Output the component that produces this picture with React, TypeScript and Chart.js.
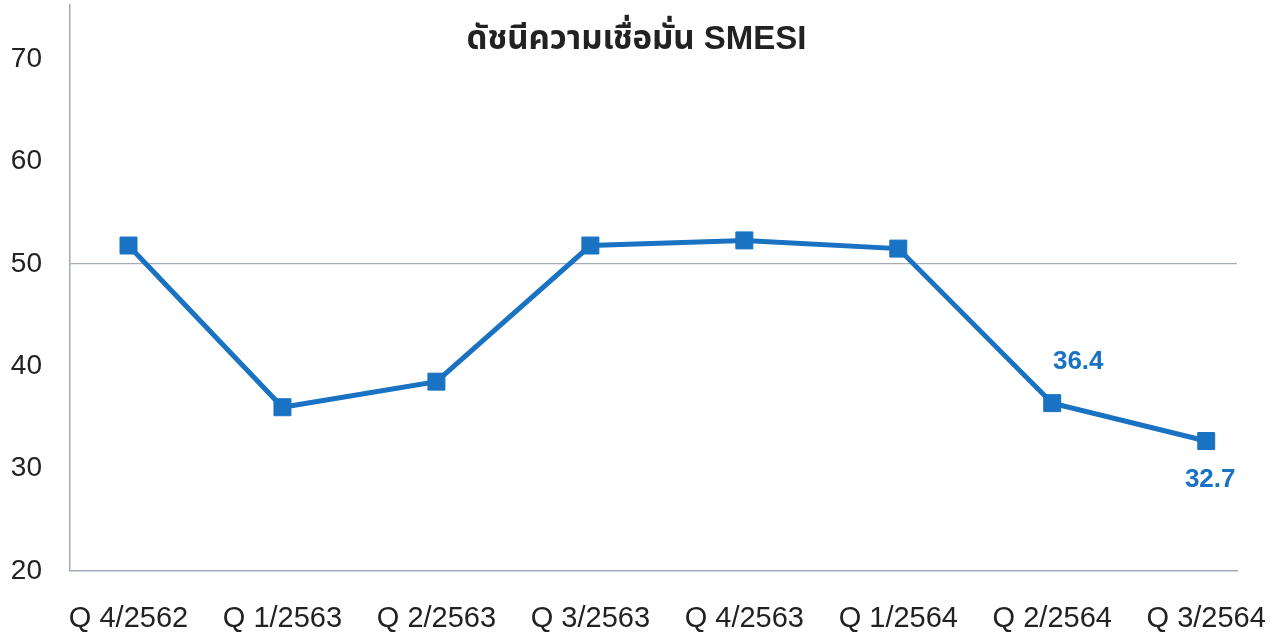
import { useEffect, useRef } from "react";
import { Chart, registerables } from "chart.js";

Chart.register(...registerables);

const categories = [
  "Q 4/2562",
  "Q 1/2563",
  "Q 2/2563",
  "Q 3/2563",
  "Q 4/2563",
  "Q 1/2564",
  "Q 2/2564",
  "Q 3/2564",
];
const smesi = [51.8, 36.0, 38.5, 51.8, 52.3, 51.5, 36.4, 32.7];
const yTicks = [20, 30, 40, 50, 60, 70];
const labelledIndices = [6, 7];
const titleText = "ดัชนีความเชื่อมั่น SMESI";

const FONT = "'Liberation Sans', Arial, 'Noto Sans Thai', 'Noto Sans', sans-serif";
const BLUE = "#1a72c2";
const AXIS = "#a3abbb";
const TEXT = "#222222";

// label offsets (style only)
const labelOffsets: Record<number, [number, number]> = {
  6: [26, -41],
  7: [4, 39],
};

const titlePlugin = {
  id: "customTitle",
  afterDraw(chart: any) {
    const ctx = chart.ctx;
    ctx.save();
    ctx.font = `bold 33px ${FONT}`;
    ctx.fillStyle = TEXT;
    ctx.textAlign = "center";
    ctx.textBaseline = "alphabetic";
    ctx.fillText(titleText, chart.width / 2, 49);
    ctx.restore();
  },
};

const valueLabelPlugin = {
  id: "valueLabels",
  afterDatasetsDraw(chart: any) {
    const ctx = chart.ctx;
    const meta = chart.getDatasetMeta(0);
    ctx.save();
    ctx.font = `bold 26px ${FONT}`;
    ctx.fillStyle = BLUE;
    ctx.textAlign = "center";
    ctx.textBaseline = "middle";
    labelledIndices.forEach((i) => {
      const el = meta.data[i];
      if (!el) return;
      const [dx, dy] = labelOffsets[i] || [0, -30];
      ctx.fillText(smesi[i].toFixed(1), el.x + dx, el.y + dy);
    });
    ctx.restore();
  },
};

export default function App() {
  const ref = useRef<HTMLCanvasElement | null>(null);

  useEffect(() => {
    document.body.style.margin = "0";
    const canvas = ref.current;
    if (!canvas) return;
    const chart = new Chart(canvas, {
      type: "line",
      data: {
        datasets: [
          {
            data: smesi.map((v, i) => ({ x: i, y: v })),
            borderColor: BLUE,
            backgroundColor: BLUE,
            borderWidth: 5,
            pointStyle: "rect",
            pointRadius: 12,
            pointBorderWidth: 1,
            pointBackgroundColor: BLUE,
            pointBorderColor: BLUE,
            tension: 0,
            fill: false,
          },
        ],
      },
      options: {
        responsive: false,
        animation: false,
        devicePixelRatio: 1,
        layout: { autoPadding: false, padding: { top: 5, right: 36, bottom: 0, left: 0 } },
        plugins: {
          legend: { display: false },
          title: { display: false },
          tooltip: { enabled: false },
        },
        scales: {
          x: {
            type: "linear",
            min: -0.38,
            max: 7.2,
            afterBuildTicks(scale: any) {
              scale.ticks = categories.map((_, i) => ({ value: i }));
            },
            afterFit(scale: any) {
              scale.height = 63;
              scale.paddingLeft = 0;
              scale.paddingRight = 0;
              scale.paddingTop = 0;
              scale.paddingBottom = 0;
            },
            grid: { display: false, drawTicks: false },
            border: { display: true, color: AXIS, width: 1.5 },
            ticks: {
              padding: 31,
              maxRotation: 0,
              autoSkip: false,
              color: TEXT,
              font: { family: FONT, size: 29 },
              callback: (v: any) => categories[Math.round(Number(v))] ?? "",
            },
          },
          y: {
            min: 20,
            max: 75.3,
            afterBuildTicks(scale: any) {
              scale.ticks = yTicks.map((v) => ({ value: v }));
            },
            afterFit(scale: any) {
              scale.width = 70;
              scale.paddingLeft = 0;
              scale.paddingRight = 0;
              scale.paddingTop = 0;
              scale.paddingBottom = 0;
            },
            grid: {
              drawTicks: false,
              color: (c: any) => (c.tick && c.tick.value === 50 ? AXIS : "rgba(0,0,0,0)"),
              lineWidth: 1.2,
            },
            border: { display: true, color: AXIS, width: 1.5 },
            ticks: {
              padding: 28,
              color: TEXT,
              font: { family: FONT, size: 28 },
            },
          },
        },
      },
      plugins: [titlePlugin, valueLabelPlugin],
    } as any);
    return () => chart.destroy();
  }, []);

  return (
    <div style={{ width: 1273, height: 634, overflow: "hidden", background: "#fff" }}>
      <canvas ref={ref} width={1273} height={634} style={{ display: "block" }} />
    </div>
  );
}
